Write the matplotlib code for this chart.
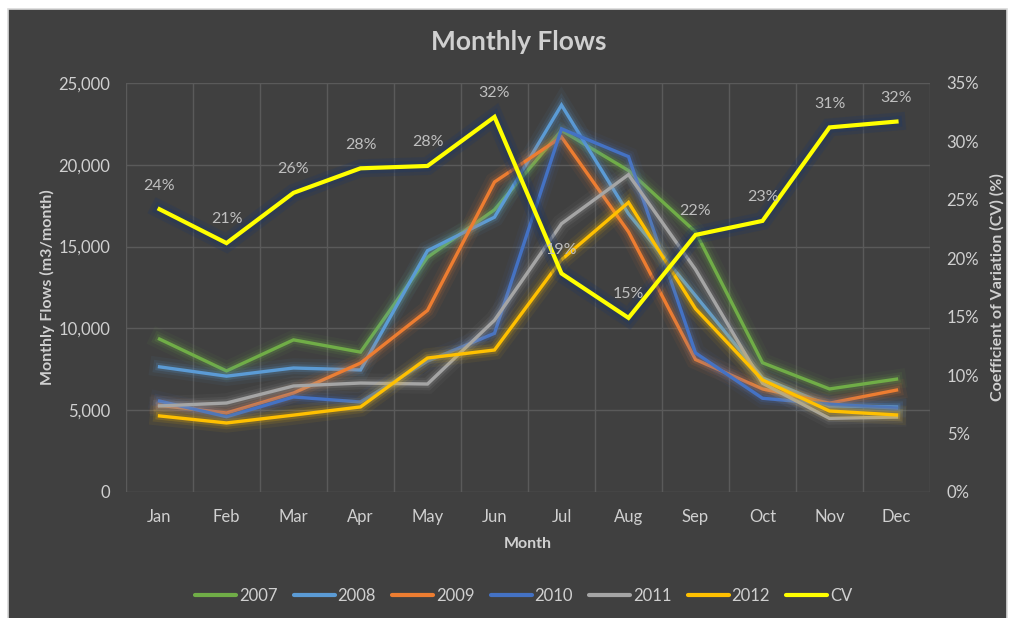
import matplotlib
matplotlib.use('Agg')
import matplotlib.pyplot as plt
import matplotlib.patheffects as pe
from matplotlib.patches import Rectangle
from matplotlib.lines import Line2D

# data
months = ['Jan', 'Feb', 'Mar', 'Apr', 'May', 'Jun', 'Jul', 'Aug', 'Sep', 'Oct', 'Nov', 'Dec']
flows_2007 = [9350, 7400, 9300, 8550, 14350, 17250, 22100, 19650, 15900, 7900, 6300, 6900]
flows_2008 = [7650, 7080, 7580, 7460, 14750, 16800, 23650, 17000, 12000, 6970, 5260, 5200]
flows_2009 = [5300, 4830, 6050, 7880, 11100, 18950, 21700, 15900, 8100, 6300, 5430, 6230]
flows_2010 = [5560, 4600, 5810, 5500, 8000, 9700, 22200, 20500, 8500, 5730, 5370, 5130]
flows_2011 = [5260, 5440, 6480, 6660, 6600, 10500, 16400, 19400, 13600, 6650, 4500, 4580]
flows_2012 = [4650, 4220, 4700, 5200, 8190, 8680, 14200, 17700, 11200, 6850, 4950, 4710]
cv_pct = [24.2, 21.3, 25.6, 27.7, 27.9, 32.1, 18.7, 14.9, 22.0, 23.2, 31.2, 31.7]

series_names = ['2007', '2008', '2009', '2010', '2011', '2012']
series_colors = ['#70AD47', '#5B9BD5', '#ED7D31', '#4472C4', '#A5A5A5', '#FFC000']
cv_color = '#FFFF00'

BG = '#404040'
GRID = '#5A5A5A'
TXT = '#D0D0D0'
FONT = 'Lato'

plt.rcParams['font.family'] = [FONT, 'DejaVu Sans']

fig = plt.figure(figsize=(10.17, 6.18), dpi=100)
fig.patch.set_facecolor('white')
# dark chart area with thin light frame
fig.patches.append(Rectangle((8 / 1017, -0.01), 999 / 1017, 1 - 9 / 618 + 0.01,
                             transform=fig.transFigure, facecolor=BG,
                             edgecolor='#D9D9D9', linewidth=1.2, zorder=-10))

ax = fig.add_axes([126 / 1017, 1 - 492 / 618, (930 - 126) / 1017, (492 - 83) / 618])
ax.set_facecolor(BG)
ax2 = ax.twinx()
ax2.patch.set_visible(False)

x = list(range(len(months)))
all_flows = [flows_2007, flows_2008, flows_2009, flows_2010, flows_2011, flows_2012]

# gridlines (between categories)
for gx in [i - 0.5 for i in range(len(months) + 1)]:
    ax.axvline(gx, color=GRID, lw=1.0, zorder=0.5)
for gy in range(0, 25001, 5000):
    ax.axhline(gy, color=GRID, lw=1.0, zorder=0.5)

handles = []
for name, vals, col in zip(series_names, all_flows, series_colors):
    glow = [pe.Stroke(linewidth=14, foreground=col, alpha=0.06),
            pe.Stroke(linewidth=9, foreground=col, alpha=0.10),
            pe.Stroke(linewidth=5.5, foreground=col, alpha=0.18),
            pe.Normal()]
    ax.plot(x, vals, color=col, lw=2.4, solid_joinstyle='miter',
            path_effects=glow, zorder=2)
    handles.append(Line2D([0], [0], color=col, lw=3.0, solid_capstyle='round'))

cv_glow = [pe.Stroke(linewidth=13, foreground='#203864', alpha=0.25),
           pe.Stroke(linewidth=8, foreground='#203864', alpha=0.35),
           pe.Normal()]
ax2.plot(x, cv_pct, color=cv_color, lw=3.0, solid_joinstyle='miter',
         path_effects=cv_glow, zorder=3)
handles.append(Line2D([0], [0], color=cv_color, lw=3.0, solid_capstyle='round'))

for xi, v in zip(x, cv_pct):
    ax2.annotate('{:.0f}%'.format(v), (xi, v), xytext=(0, 12), textcoords='offset points',
                 ha='center', va='bottom', color='#BFBFBF', fontsize=11.5)

ax.set_xlim(-0.5, len(months) - 0.5)
ax.set_ylim(0, 25000)
ax2.set_ylim(0, 35)

ax.set_xticks(x)
ax.set_xticklabels(months)
ax.set_yticks(range(0, 25001, 5000))
ax.set_yticklabels(['{:,}'.format(v) for v in range(0, 25001, 5000)])
ax2.set_yticks(range(0, 36, 5))
ax2.set_yticklabels(['{}%'.format(v) for v in range(0, 36, 5)])

for a in (ax, ax2):
    for sp in a.spines.values():
        sp.set_visible(False)
    a.tick_params(length=0, colors=TXT, labelsize=12)
ax.tick_params(axis='y', pad=11.5)
ax.tick_params(axis='x', pad=12)
ax2.tick_params(axis='y', pad=12)

ax.set_xlabel('Month', color=TXT, fontsize=11.5, fontweight='bold', labelpad=9)
ax.set_ylabel('Monthly Flows (m3/month)', color=TXT, fontsize=11.5, fontweight='bold', labelpad=2)
ax2.set_ylabel('Coefficient of Variation (CV) (%)', color=TXT, fontsize=11.5,
               fontweight='bold', labelpad=8)

fig.text(519 / 1017, 1 - 42 / 618, 'Monthly Flows', ha='center', va='center',
         color=TXT, fontsize=19, fontweight='bold')

fig.legend(handles, series_names + ['CV'], loc='center', bbox_to_anchor=(0.515, 1 - 596 / 618),
           ncol=7, frameon=False, fontsize=12, labelcolor=TXT, handlelength=2.45,
           handletextpad=0.15, columnspacing=1.0)

fig.savefig('out.png', dpi=100, facecolor=fig.get_facecolor())
